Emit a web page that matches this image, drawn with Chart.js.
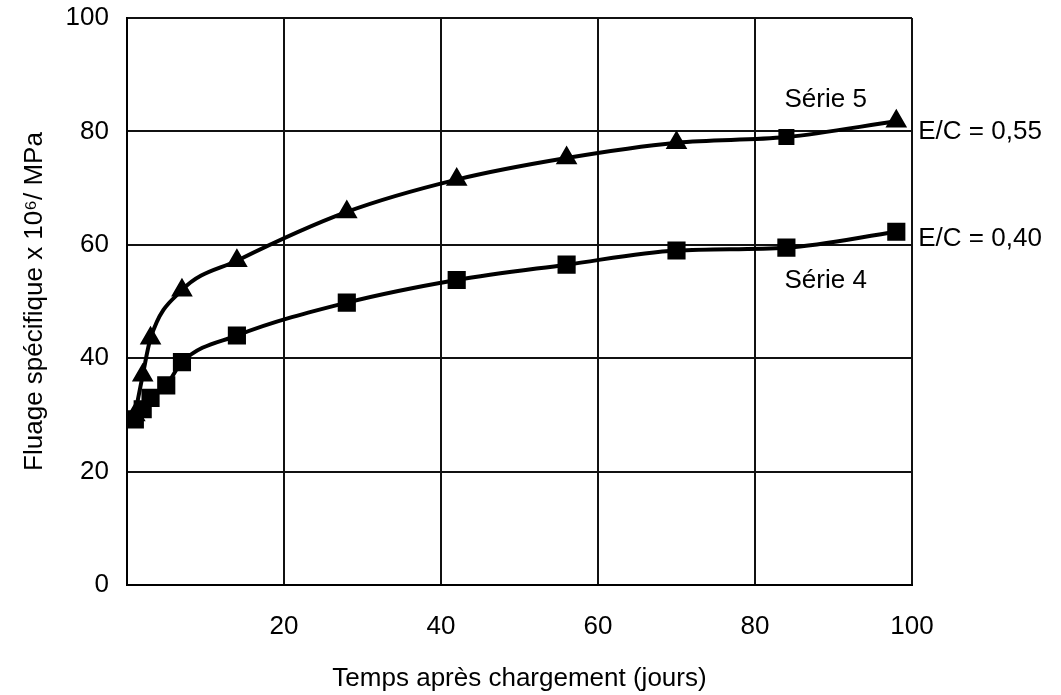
<!DOCTYPE html>
<html>
<head>
<meta charset="utf-8">
<script src="https://cdn.jsdelivr.net/npm/chart.js@4.4.0/dist/chart.umd.min.js"></script>
<style>
  html, body { margin: 0; padding: 0; background: #fff; }
  #wrap { width: 1061px; height: 695px; }
</style>
</head>
<body>
<div id="wrap"><canvas id="fluageChart"></canvas></div>
<script>
// values
const serie5_days = [1, 2, 3, 7, 14, 28, 42, 56, 70, 84, 98];
const serie5_values = [30, 37, 43.5, 52, 57.2, 65.8, 71.5, 75.3, 78, 79, 81.8];
const serie4_days = [1, 2, 3, 5, 7, 14, 28, 42, 56, 70, 84, 98];
const serie4_values = [29.2, 31, 33, 35.2, 39.3, 44, 49.8, 53.8, 56.5, 59, 59.5, 62.3];
const x_ticks = [20, 40, 60, 80, 100];
const y_ticks = [0, 20, 40, 60, 80, 100];

const font_family = "'Liberation Sans', Arial, sans-serif";
const font_size = 26;

// text placed next to the curves (data coordinates)
const curve_labels = [
    { text: 'Série 5', x: 89, y: 85.5, align: 'center' },
    { text: 'E/C = 0,55', x: 100.8, y: 80, align: 'left' },
    { text: 'E/C = 0,40', x: 100.8, y: 61, align: 'left' },
    { text: 'Série 4', x: 89, y: 53.6, align: 'center' },
];

const curveLabelsPlugin = {
    id: 'curveLabels',
    afterDraw(chart) {
        const ctx = chart.ctx;
        const xs = chart.scales.x, ys = chart.scales.y;
        ctx.save();
        ctx.fillStyle = '#000';
        ctx.font = font_size + 'px ' + font_family;
        ctx.textBaseline = 'middle';
        curve_labels.forEach(l => {
            ctx.textAlign = l.align;
            ctx.fillText(l.text, xs.getPixelForValue(l.x), ys.getPixelForValue(l.y));
        });
        ctx.restore();
    }
};

const toPoints = (days, vals) => days.map((d, i) => ({ x: d, y: vals[i] }));

const fluage_data = {
    datasets: [
        {
            label: 'Série 5',
            data: toPoints(serie5_days, serie5_values),
            borderColor: '#000',
            backgroundColor: '#000',
            borderWidth: 4,
            pointStyle: serie5_days.map(d => d === 84 ? 'rect' : 'triangle'),
            pointRadius: 8.5,
            cubicInterpolationMode: 'monotone',
        },
        {
            label: 'Série 4',
            data: toPoints(serie4_days, serie4_values),
            borderColor: '#000',
            backgroundColor: '#000',
            borderWidth: 4,
            pointStyle: 'rect',
            pointRadius: 10,
            cubicInterpolationMode: 'monotone',
        },
    ]
};

const fluage_config = {
    type: 'line',
    data: fluage_data,
    options: {
        responsive: true,
        maintainAspectRatio: false,
        animation: false,
        layout: { padding: { left: 0, top: 18, right: 149, bottom: 0 } },
        plugins: {
            legend: { display: false },
            tooltip: { enabled: false },
        },
        scales: {
            x: {
                type: 'linear',
                min: 0,
                max: 100,
                afterBuildTicks: s => { s.ticks = x_ticks.map(v => ({ value: v })); },
                afterFit: s => { s.height = 110; s.paddingLeft = 0; s.paddingRight = 0; },
                grid: { color: '#111', lineWidth: 2, drawTicks: false },
                border: { color: '#000', width: 2 },
                ticks: { color: '#000', padding: 26, font: { size: font_size, family: font_family } },
                title: {
                    display: true,
                    text: 'Temps après chargement (jours)',
                    color: '#000',
                    font: { size: font_size, family: font_family },
                    padding: { top: 0, bottom: 1 },
                },
            },
            y: {
                min: 0,
                max: 100,
                afterBuildTicks: s => { s.ticks = y_ticks.map(v => ({ value: v })); },
                afterFit: s => { s.width = 127; s.paddingTop = 0; s.paddingBottom = 0; },
                grid: { color: '#111', lineWidth: 2, drawTicks: false },
                border: { color: '#000', width: 2 },
                ticks: { color: '#000', padding: 18, font: { size: font_size, family: font_family } },
                title: {
                    display: true,
                    text: 'Fluage spécifique x 10⁶/ MPa',
                    color: '#000',
                    font: { size: font_size, family: font_family },
                    padding: { top: 19, bottom: 0 },
                },
            },
        },
    },
    plugins: [curveLabelsPlugin],
};

new Chart(document.getElementById('fluageChart'), fluage_config);
</script>
</body>
</html>
